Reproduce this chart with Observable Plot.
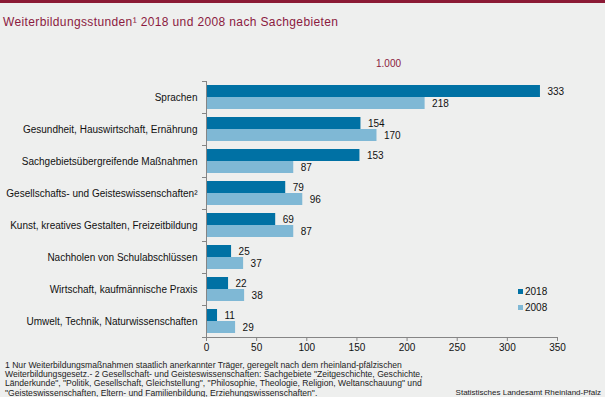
<!DOCTYPE html>
<html>
<head>
<meta charset="utf-8">
<script src="https://cdn.jsdelivr.net/npm/d3@7"></script>
<script src="https://cdn.jsdelivr.net/npm/@observablehq/plot@0.6"></script>
<style>
  html, body { margin: 0; padding: 0; background: #eeefee; }
  #wrap { position: relative; width: 605px; height: 397px; overflow: hidden; background: #eeefee; font-family: Arial, "Liberation Sans", sans-serif; }
  #topbar { position: absolute; left: 0; top: 0; width: 605px; height: 3px; background: #8b1a35; }
  #title { position: absolute; left: 3px; top: 15px; font-size: 12px; letter-spacing: 0.37px; color: #8b1a40; white-space: nowrap; }
  #unit { position: absolute; left: 376px; top: 58px; font-size: 10px; color: #8b1a40; }
  #chart { position: absolute; left: 0; top: 0; }
  .leg { position: absolute; left: 518px; font-size: 10px; color: #111; white-space: nowrap; line-height: 12px; }
  .leg span { display: inline-block; width: 5px; height: 5px; margin-right: 2px; vertical-align: 1px; }
  #foot { position: absolute; left: 5px; top: 361px; font-size: 8.6px; line-height: 9.2px; color: #222; white-space: nowrap; }
  #source { position: absolute; right: 4px; top: 388px; font-size: 8px; color: #222; white-space: nowrap; }
</style>
</head>
<body>
<div id="wrap">
  <div id="topbar"></div>
  <div id="title">Weiterbildungsstunden¹ 2018 und 2008 nach Sachgebieten</div>
  <div id="chart"></div>
  <div id="unit"></div>
  <div id="legend"></div>
  <div id="foot"></div>
  <div id="source">Statistisches Landesamt Rheinland-Pfalz</div>
</div>
<script>
const categories = [
  "Sprachen",
  "Gesundheit, Hauswirtschaft, Ernährung",
  "Sachgebietsübergreifende Maßnahmen",
  "Gesellschafts- und Geisteswissenschaften²",
  "Kunst, kreatives Gestalten, Freizeitbildung",
  "Nachholen von Schulabschlüssen",
  "Wirtschaft, kaufmännische Praxis",
  "Umwelt, Technik, Naturwissenschaften"
];
const values2018 = [333, 154, 153, 79, 69, 25, 22, 11];
const values2008 = [218, 170, 87, 96, 87, 37, 38, 29];
const seriesNames = ["2018", "2008"];
const seriesColors = ["#0071a4", "#7fb8d5"];
const xTicks = [0, 50, 100, 150, 200, 250, 300, 350];
const unitLabel = "1.000";
const footLines = [
  "1 Nur Weiterbildungsmaßnahmen  staatlich anerkannter Träger, geregelt nach dem rheinland-pfälzischen",
  "Weiterbildungsgesetz.- 2 Gesellschaft- und Geisteswissenschaften: Sachgebiete \"Zeitgeschichte, Geschichte,",
  "Länderkunde\", \"Politik, Gesellschaft, Gleichstellung\", \"Philosophie, Theologie, Religion, Weltanschauung\" und",
  "\"Geisteswissenschaften, Eltern- und Familienbildung, Erziehungswissenschaften\"."
];

const d2018 = categories.map((c, i) => ({category: c, value: values2018[i]}));
const d2008 = categories.map((c, i) => ({category: c, value: values2008[i]}));

const W = 605, H = 397, mTop = 81, mBottom = 60, mLeft = 206, mRight = 48;
const band = (H - mTop - mBottom) / categories.length;
const barH = band * 0.375;
const pad = band * 0.125;
const gray = "#858585";

const chart = Plot.plot({
  width: W,
  height: H,
  marginTop: mTop,
  marginBottom: mBottom,
  marginLeft: mLeft,
  marginRight: mRight,
  style: {background: "transparent", fontFamily: "Arial, 'Liberation Sans', sans-serif", fontSize: "10px", color: "#111"},
  x: {domain: [0, 350], label: null},
  y: {domain: categories, padding: 0, label: null},
  marks: [
    Plot.barX(d2018, {x: "value", y: "category", fill: seriesColors[0], insetTop: pad, insetBottom: band - pad - barH}),
    Plot.barX(d2008, {x: "value", y: "category", fill: seriesColors[1], insetTop: pad + barH, insetBottom: pad}),
    Plot.text(d2018, {x: "value", y: "category", text: d => String(d.value), textAnchor: "start", dx: 7, dy: -(barH / 2), fill: "#111", fontSize: 10}),
    Plot.text(d2008, {x: "value", y: "category", text: d => String(d.value), textAnchor: "start", dx: 7, dy: barH / 2, fill: "#111", fontSize: 10}),
    Plot.frame({anchor: "left", stroke: gray}),
    Plot.frame({anchor: "bottom", stroke: gray}),
    Plot.axisY({tickSize: 0, tickPadding: 9, fontSize: 10, fill: "#111", label: null}),
    Plot.axisY({tickSize: 4, text: null, stroke: gray, dy: -band / 2, label: null}),
    Plot.axisY({ticks: [categories[categories.length - 1]], tickSize: 4, text: null, stroke: gray, dy: band / 2, label: null}),
    Plot.axisX({ticks: xTicks, tickSize: 4, tickPadding: 2.5, stroke: gray, fontSize: 10, fill: "#111", label: null})
  ]
});
document.getElementById("chart").appendChild(chart);

document.getElementById("unit").textContent = unitLabel;

const legend = document.getElementById("legend");
seriesNames.forEach((name, i) => {
  const el = document.createElement("div");
  el.className = "leg";
  el.style.top = (286 + i * 16) + "px";
  const sw = document.createElement("span");
  sw.style.background = seriesColors[i];
  el.appendChild(sw);
  el.appendChild(document.createTextNode(name));
  legend.appendChild(el);
});

const foot = document.getElementById("foot");
footLines.forEach((line, i) => {
  if (i) foot.appendChild(document.createElement("br"));
  foot.appendChild(document.createTextNode(line));
});
</script>
</body>
</html>
